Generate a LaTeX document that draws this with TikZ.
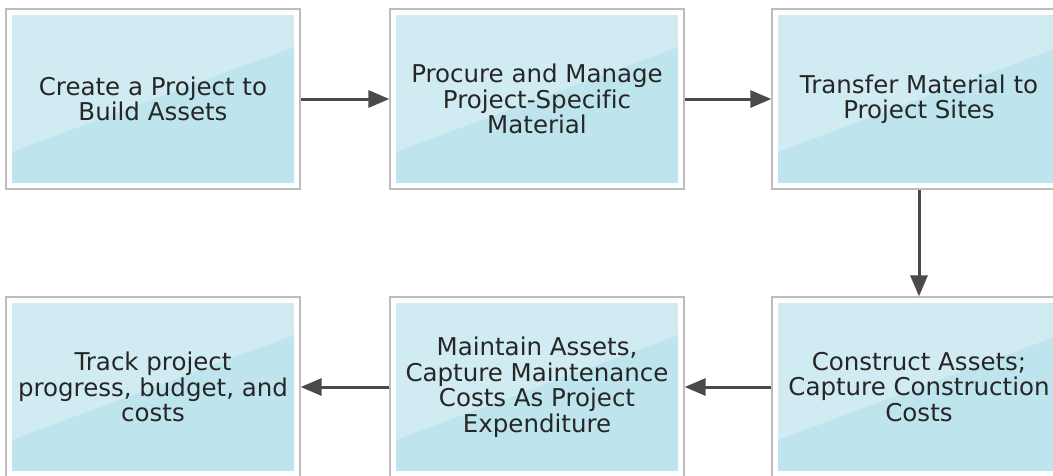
\documentclass[tikz,border=0pt]{standalone}
\usepackage{fontspec}
\setmainfont{DejaVu Sans}[Ligatures=NoCommon]
\usetikzlibrary{arrows.meta}
\definecolor{bordergray}{HTML}{BDBDBD}
\definecolor{lightfill}{HTML}{D0EBF1}
\definecolor{darkfill}{HTML}{BEE4ED}
\definecolor{arrowgray}{HTML}{4A4A4A}
\definecolor{textgray}{HTML}{262626}
\tikzset{
  stepbox/.style={draw=bordergray, line width=1.3pt, minimum width=294pt, minimum height=180pt,
    inner sep=0pt, align=center, text=textgray,
    font=\fontsize{24.5pt}{25.5pt}\selectfont,
    path picture={
      \fill[lightfill] ([shift={(6pt,6pt)}]path picture bounding box.south west) rectangle ([shift={(-6pt,-6pt)}]path picture bounding box.north east);
      \fill[darkfill] ([shift={(6pt,6pt)}]path picture bounding box.south west)
        -- ([shift={(288pt,6pt)}]path picture bounding box.south west)
        -- ([shift={(288pt,142pt)}]path picture bounding box.south west)
        -- ([shift={(6pt,37pt)}]path picture bounding box.south west) -- cycle;
    }},
  flow/.style={draw=arrowgray, line width=3pt, -{Triangle[length=21pt,width=17pt]}}
}
\begin{document}
\begin{tikzpicture}[x=1pt,y=-1pt]
\useasboundingbox (0,0) rectangle (1053,475);
\clip (0,0) rectangle (1053,475);
\node[stepbox] (a) at (153,99) {Create a Project to\\Build Assets};
\node[stepbox] (b) at (537,99) {Procure and Manage\\Project-Specific\\Material};
\node[stepbox] (c) at (919,99) {Transfer Material to\\Project Sites};
\node[stepbox] (d) at (919,387) {Construct Assets;\\Capture Construction\\Costs};
\node[stepbox] (e) at (537,387) {Maintain Assets,\\Capture Maintenance\\Costs As Project\\Expenditure};
\node[stepbox] (f) at (153,387) {Track project\\progress, budget, and\\costs};
\draw[flow] (a) -- (b);
\draw[flow] (b) -- (c);
\draw[flow] (c) -- (d);
\draw[flow] (d) -- (e);
\draw[flow] (e) -- (f);
\end{tikzpicture}
\end{document}
